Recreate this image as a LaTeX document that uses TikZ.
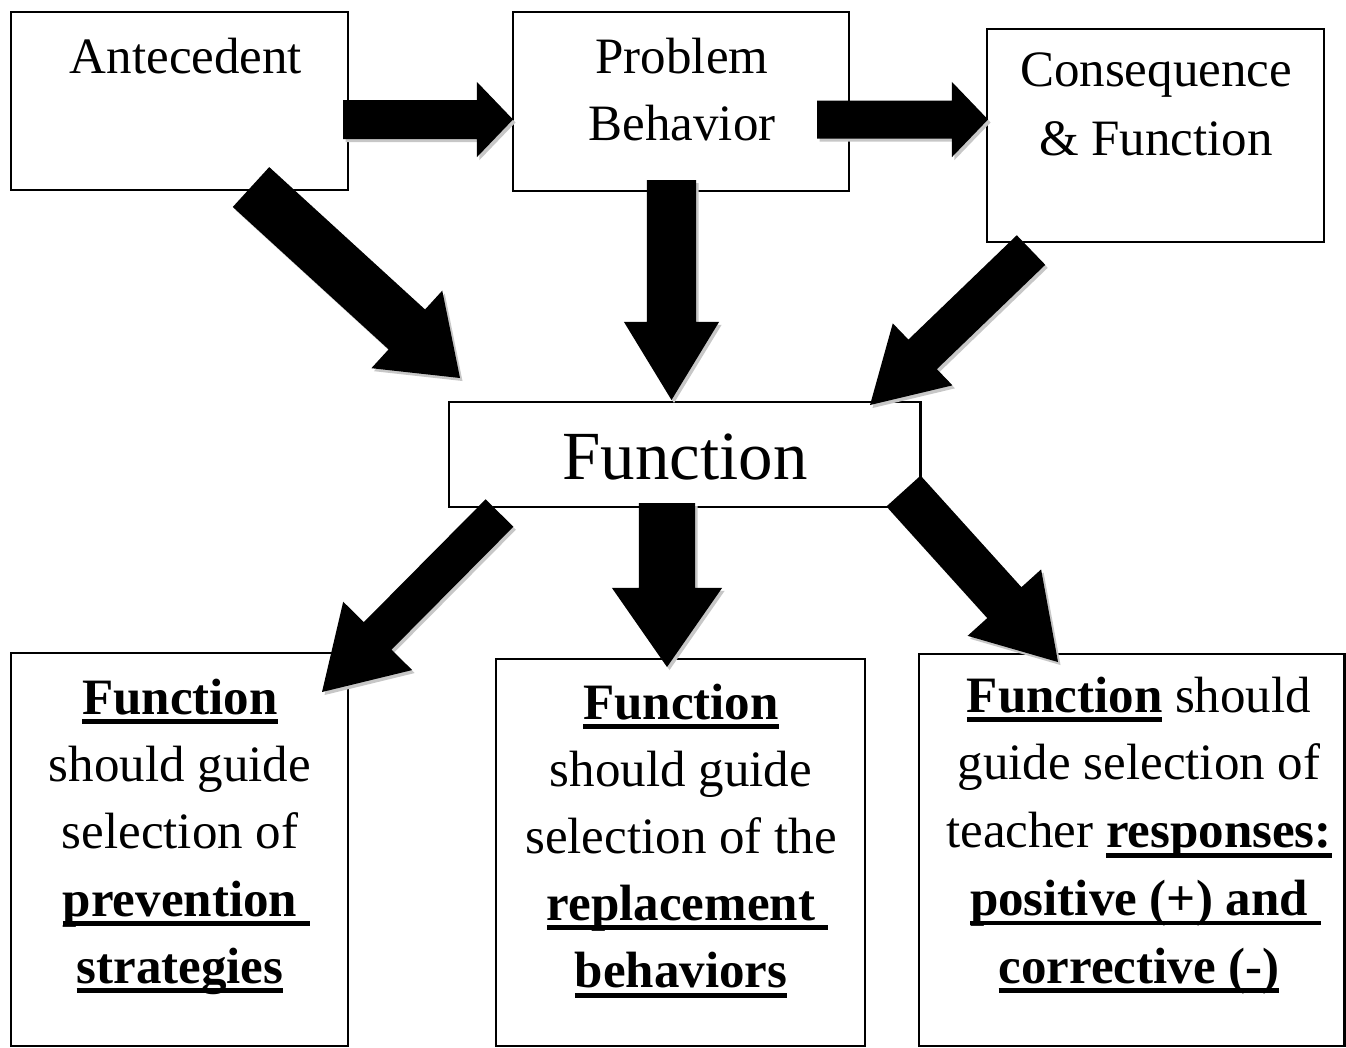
\documentclass[tikz,border=0pt]{standalone}
\usepackage{fontspec}
\setmainfont{Liberation Serif}
\usetikzlibrary{calc}

% centred lines; the node's base is the baseline of the first line
\newcommand\stack[2][19.1pt]{\vtop{\baselineskip=#1\relax\lineskiplimit=-100pt\halign{\hfil##\hfil\cr#2\crcr}}}
% heavy underline
\newcommand\ulw[1]{\setbox0\hbox{#1}\rlap{\rule[-2.8pt]{\wd0}{1.4pt}}\box0\relax}
% heavy underline that runs on under a trailing space
\newcommand\ulws[1]{\setbox0\hbox{#1\ }\rlap{\rule[-2.8pt]{\wd0}{1.4pt}}\hbox{#1}}

% block arrow: #1 style, #2 tail centre, #3 tip, #4 half shaft width, #5 half head width
\newcommand\arrowshape[5]{%
  \fill[#1] ($(#2)!#4!90:(#3)$) -- ($(hb)!#4!90:(#3)$) -- ($(hb)!#5!90:(#3)$) -- (#3)
    -- ($(hb)!#5!-90:(#3)$) -- ($(hb)!#4!-90:(#3)$) -- ($(#2)!#4!-90:(#3)$) -- cycle;}
% #1 tail, #2 tip, #3 half shaft width, #4 half head width, #5 head length
\newcommand\blockarrow[5]{%
  \coordinate (hb) at ($(#2)!#5!(#1)$);
  \arrowshape{shadowfill, transform canvas={xshift=0.025cm, yshift=-0.03cm}}{#1}{#2}{#3}{#4}
  \arrowshape{black}{#1}{#2}{#3}{#4}}

\tikzset{
  boxst/.style={draw=black, line width=0.7pt, fill=white, inner sep=0pt, outer sep=0pt, anchor=north west},
  txt/.style={anchor=base, inner sep=0pt, font=\fontsize{14.5pt}{19.1pt}\selectfont},
  bigtxt/.style={anchor=base, inner sep=0pt, font=\fontsize{19.6pt}{24pt}\selectfont},
  shadowfill/.style={fill=black!22},
}

\begin{document}
\begin{tikzpicture}[x=0.01cm, y=-0.01cm]
\useasboundingbox (0,0) rectangle (1346,1047);

% boxes
\node[boxst, minimum width=3.37cm, minimum height=1.78cm] (ante) at (11,12) {};
\node[boxst, minimum width=3.36cm, minimum height=1.79cm] (prob) at (513,12) {};
\node[boxst, minimum width=3.37cm, minimum height=2.13cm] (cons) at (987,29) {};
\node[boxst, minimum width=4.71cm, minimum height=1.05cm] (func) at (449,402) {};
\node[boxst, minimum width=3.37cm, minimum height=3.93cm] (left) at (11,653) {};
\node[boxst, minimum width=3.69cm, minimum height=3.87cm] (mid) at (496,659) {};
\node[boxst, minimum width=4.25cm, minimum height=3.92cm] (right) at (919,654) {};

% arrow ends
\coordinate (a1t) at (343,119.5);  \coordinate (a1p) at (513,119.5);
\coordinate (a2t) at (817,119.5);  \coordinate (a2p) at (988,119.5);
\coordinate (a3t) at (251,187);    \coordinate (a3p) at (460,378);
\coordinate (a4t) at (671.5,180);  \coordinate (a4p) at (671.5,400);
\coordinate (a5t) at (1031,250);   \coordinate (a5p) at (870,405);
\coordinate (a6t) at (499.5,513);  \coordinate (a6p) at (322,692);
\coordinate (a7t) at (667,503);    \coordinate (a7p) at (667,667);
\coordinate (a8t) at (903.5,491);  \coordinate (a8p) at (1058,662);

% arrows
\blockarrow{a1t}{a1p}{0.195cm}{0.375cm}{0.36cm}
\blockarrow{a2t}{a2p}{0.19cm}{0.375cm}{0.36cm}
\blockarrow{a3t}{a3p}{0.27cm}{0.525cm}{0.72cm}
\blockarrow{a4t}{a4p}{0.245cm}{0.475cm}{0.78cm}
\blockarrow{a5t}{a5p}{0.205cm}{0.43cm}{0.73cm}
\blockarrow{a6t}{a6p}{0.195cm}{0.485cm}{0.79cm}
\blockarrow{a7t}{a7p}{0.28cm}{0.55cm}{0.79cm}
\blockarrow{a8t}{a8p}{0.23cm}{0.495cm}{0.80cm}

% texts
\node[txt] (ante-t) at (186,73) {Antecedent};
\node[txt] (prob-t) at (682,73) {\stack{Problem\cr Behavior}};
\node[txt] (cons-t) at (1156,86) {\stack[19.9pt]{Consequence\cr \& Function}};
\node[bigtxt] (func-t) at (685,479) {Function};

\node[txt] (left-t) at (180,714) {\stack[19.15pt]{%
  \ulw{\textbf{Function}}\cr
  should guide\cr
  selection of\cr
  \ulws{\textbf{prevention}}\cr
  \ulw{\textbf{strategies}}}};

\node[txt] (mid-t) at (681,719) {\stack[19.1pt]{%
  \ulw{\textbf{Function}}\cr
  should guide\cr
  selection of the\cr
  \ulws{\textbf{replacement}}\cr
  \ulw{\textbf{behaviors}}}};

\node[txt] (right-t) at (1139,712) {\stack[19.3pt]{%
  \ulw{\textbf{Function}} should\cr
  guide selection of\cr
  teacher \ulw{\textbf{responses:}}\cr
  \ulws{\textbf{positive (+) and}}\cr
  \ulw{\textbf{corrective (-)}}}};
\end{tikzpicture}
\end{document}
